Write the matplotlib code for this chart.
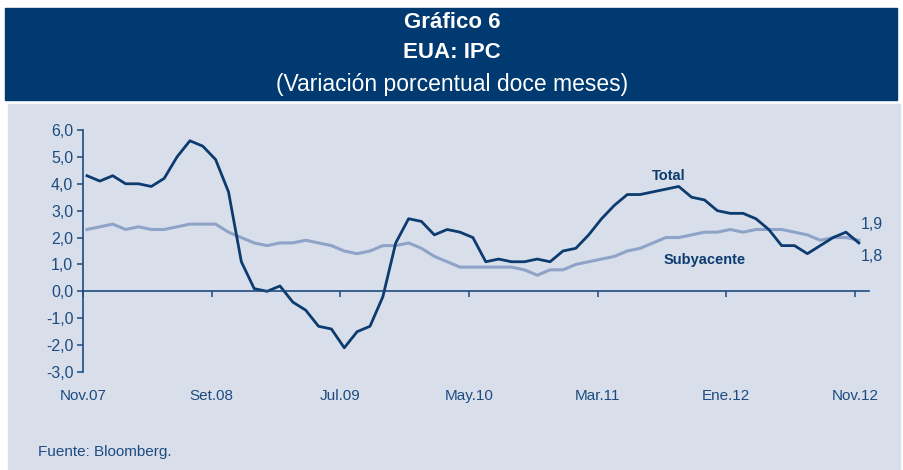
import matplotlib
matplotlib.use("Agg")
import matplotlib.pyplot as plt
from matplotlib.patches import Rectangle

plt.rcParams['font.family'] = ['Liberation Sans', 'DejaVu Sans']

# monthly data, Nov.07 - Nov.12
total = [4.3, 4.1, 4.3, 4.0, 4.0, 3.9, 4.2, 5.0, 5.6, 5.4, 4.9, 3.7, 1.1, 0.1, 0.0, 0.2,
         -0.4, -0.7, -1.3, -1.4, -2.1, -1.5, -1.3, -0.2, 1.8, 2.7, 2.6, 2.1, 2.3, 2.2, 2.0,
         1.1, 1.2, 1.1, 1.1, 1.2, 1.1, 1.5, 1.6, 2.1, 2.7, 3.2, 3.6, 3.6, 3.7, 3.8, 3.9,
         3.5, 3.4, 3.0, 2.9, 2.9, 2.7, 2.3, 1.7, 1.7, 1.4, 1.7, 2.0, 2.2, 1.8]
subyacente = [2.3, 2.4, 2.5, 2.3, 2.4, 2.3, 2.3, 2.4, 2.5, 2.5, 2.5, 2.2, 2.0, 1.8, 1.7, 1.8,
              1.8, 1.9, 1.8, 1.7, 1.5, 1.4, 1.5, 1.7, 1.7, 1.8, 1.6, 1.3, 1.1, 0.9, 0.9,
              0.9, 0.9, 0.9, 0.8, 0.6, 0.8, 0.8, 1.0, 1.1, 1.2, 1.3, 1.5, 1.6, 1.8, 2.0, 2.0,
              2.1, 2.2, 2.2, 2.3, 2.2, 2.3, 2.3, 2.3, 2.2, 2.1, 1.9, 2.0, 2.0, 1.9]
tick_pos = [0, 10, 20, 30, 40, 50, 60]
tick_labels = ["Nov.07", "Set.08", "Jul.09", "May.10", "Mar.11", "Ene.12", "Nov.12"]
y_ticks = [6, 5, 4, 3, 2, 1, 0, -1, -2, -3]

dark = "#0b3b6f"
light = "#8ea3c7"
txt = "#1d4b80"
panel = "#d9dfea"

fig = plt.figure(figsize=(9.04, 4.70), dpi=100)
fig.patches.append(Rectangle((5 / 904, 1 - 100 / 470), 892 / 904, 92 / 470,
                             transform=fig.transFigure, color="#003a70", zorder=-2))
fig.patches.append(Rectangle((8 / 904, 0), 892 / 904, 1 - 104 / 470,
                             transform=fig.transFigure, color=panel, zorder=-2))

fig.text(0.5, 1 - 22 / 470, "Gráfico 6", color="white", fontsize=16, fontweight="bold",
         ha="center", va="center")
fig.text(0.5, 1 - 53 / 470, "EUA: IPC", color="white", fontsize=16, fontweight="bold",
         ha="center", va="center")
fig.text(0.5, 1 - 85 / 470, "(Variación porcentual doce meses)", color="white", fontsize=16.5,
         ha="center", va="center")

ax = fig.add_axes([83 / 904, 1 - 372 / 470, (869 - 83) / 904, 242 / 470])
ax.set_facecolor("none")

x = [i + 0.31 for i in range(len(total))]
ax.plot(x, subyacente, color=light, lw=2.2, solid_joinstyle="round")
ax.plot(x, total, color=dark, lw=2.0, solid_joinstyle="round")

ax.set_xlim(0, 61.1)
ax.set_ylim(-3, 6)
ax.set_yticks(y_ticks)
ax.set_yticklabels([f"{v:.1f}".replace(".", ",") for v in y_ticks])
ax.set_xticks(tick_pos)
ax.set_xticklabels(tick_labels)

for s in ["top", "right"]:
    ax.spines[s].set_visible(False)
ax.spines["left"].set_color(txt)
ax.spines["left"].set_linewidth(1.2)
ax.spines["bottom"].set_position(("data", 0))
ax.spines["bottom"].set_color(txt)
ax.spines["bottom"].set_linewidth(1.2)
ax.tick_params(axis="y", colors=txt, labelcolor=txt, labelsize=11.5, length=4, width=1.1, pad=3)
ax.tick_params(axis="x", colors=txt, labelcolor=txt, labelsize=11, length=4, width=1.1,
               direction="out", pad=66)

ax.text(45.5, 4.3, "Total", color=dark, fontsize=10.5, fontweight="bold", ha="center", va="center")
ax.text(48.3, 1.15, "Subyacente", color=dark, fontsize=10.5, fontweight="bold",
        ha="center", va="center")
ax.text(61.3, 2.5, "1,9", color=txt, fontsize=11.5, ha="center", va="center")
ax.text(61.3, 1.3, "1,8", color=txt, fontsize=11.5, ha="center", va="center")

fig.text(38 / 904, 1 - 452 / 470, "Fuente: Bloomberg.", color=txt, fontsize=11,
         ha="left", va="center")

fig.savefig("out.png", dpi=100)
